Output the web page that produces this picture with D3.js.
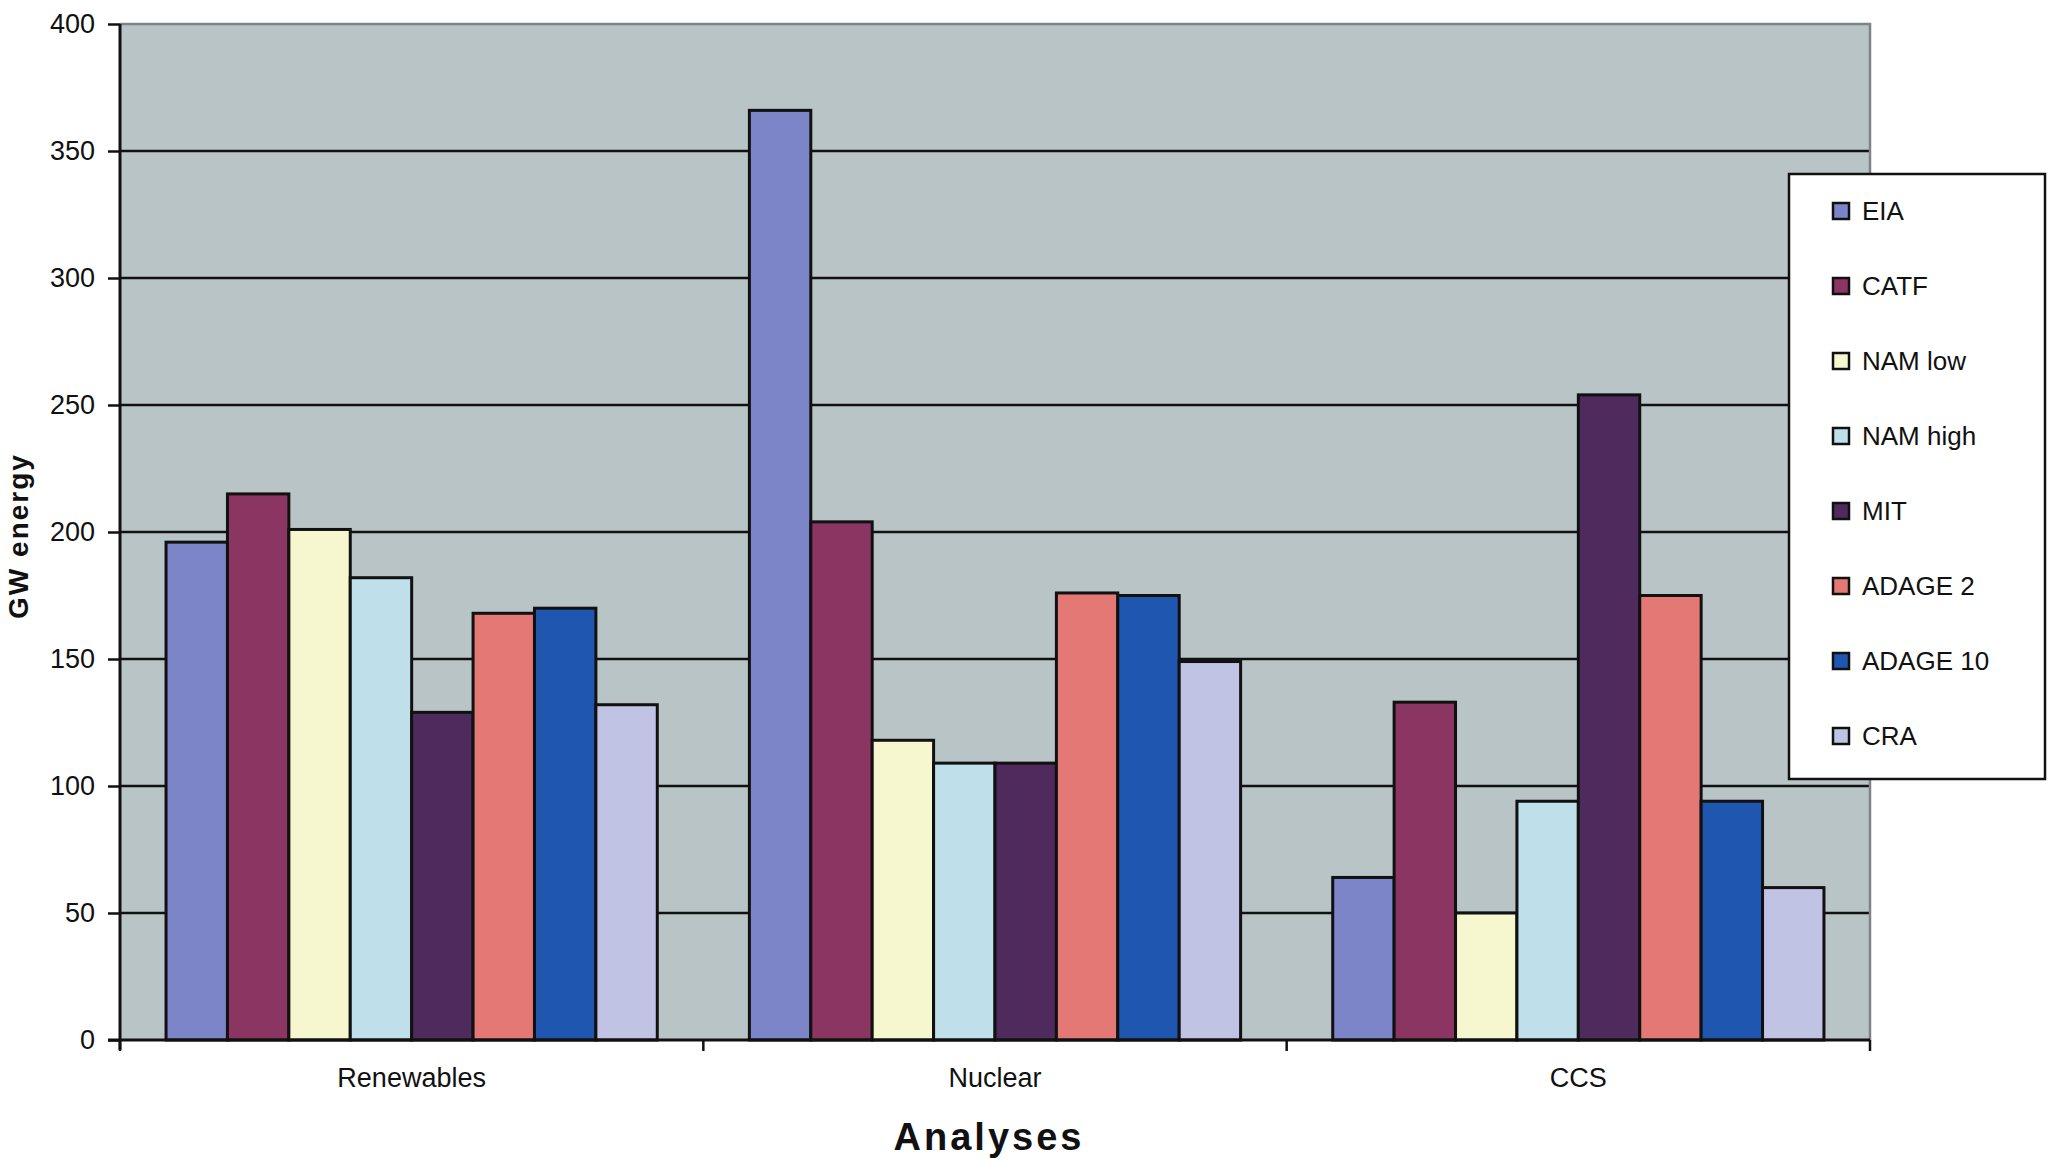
<!DOCTYPE html>
<html>
<head>
<meta charset="utf-8">
<script src="https://cdn.jsdelivr.net/npm/d3@7"></script>
<style>
  html, body { margin: 0; padding: 0; background: #ffffff; }
  svg { display: block; }
  text { font-family: "Liberation Sans", Arial, sans-serif; fill: #111; }
</style>
</head>
<body>
<svg id="chart" width="2049" height="1166"></svg>
<script>
// Categories on the x axis
const categories = ["Renewables", "Nuclear", "CCS"];

// Analyses (series) and their fills
const seriesNames = ["EIA", "CATF", "NAM low", "NAM high", "MIT", "ADAGE 2", "ADAGE 10", "CRA"];
const seriesColors = ["#7d85c9", "#8b3563", "#f6f7cf", "#bfe0ea", "#4f2a5c", "#e47874", "#1f56b0", "#c1c3e5"];

// GW of energy per analysis, one array per category (in series order)
const renewables = [196, 215, 201, 182, 129, 168, 170, 132];
const nuclear    = [366, 204, 118, 109, 109, 176, 175, 149];
const ccs        = [64, 133, 50, 94, 254, 175, 94, 60];

// Y axis tick values
const yTicks = [0, 50, 100, 150, 200, 250, 300, 350, 400];

const values = [renewables, nuclear, ccs];

const svg = d3.select("#chart");
const plot = { left: 120, right: 1870, top: 24, bottom: 1040 };

const y = d3.scaleLinear().domain([0, 400]).range([plot.bottom, plot.top]);
const x0 = d3.scaleBand().domain(categories).range([plot.left, plot.right]).paddingInner(0).paddingOuter(0);
const x1 = d3.scaleBand().domain(seriesNames).range([0, x0.bandwidth()]).paddingInner(0).paddingOuter(0.75);
const color = d3.scaleOrdinal().domain(seriesNames).range(seriesColors);

// Plot background
svg.append("rect")
  .attr("x", plot.left).attr("y", plot.top)
  .attr("width", plot.right - plot.left).attr("height", plot.bottom - plot.top)
  .attr("fill", "#b9c4c7");

// Horizontal gridlines
svg.append("g")
  .selectAll("line")
  .data(yTicks.filter(d => d > 0 && d < 400))
  .join("line")
  .attr("x1", plot.left).attr("x2", plot.right)
  .attr("y1", d => y(d)).attr("y2", d => y(d))
  .attr("stroke", "#111").attr("stroke-width", 2.5);

// Top and right plot border
svg.append("path")
  .attr("d", `M${plot.left},${plot.top}H${plot.right}V${plot.bottom}`)
  .attr("fill", "none").attr("stroke", "#7d8486").attr("stroke-width", 2.5);

// Bars
const groups = svg.append("g")
  .selectAll("g")
  .data(categories.map((c, i) => ({ cat: c, vals: values[i] })))
  .join("g")
  .attr("transform", d => `translate(${x0(d.cat)},0)`);

groups.selectAll("rect")
  .data(d => d.vals.map((v, j) => ({ name: seriesNames[j], v })))
  .join("rect")
  .attr("x", d => x1(d.name))
  .attr("width", x1.bandwidth())
  .attr("y", d => y(d.v))
  .attr("height", d => y(0) - y(d.v))
  .attr("fill", d => color(d.name))
  .attr("stroke", "#111")
  .attr("stroke-width", 3);

// Y axis
const yAxis = svg.append("g")
  .attr("transform", `translate(${plot.left},0)`)
  .call(d3.axisLeft(y).tickValues(yTicks).tickSize(12).tickPadding(13));
yAxis.select(".domain").attr("stroke", "#111").attr("stroke-width", 3)
  .attr("d", `M0,${plot.top}V${plot.bottom + 10}`);
yAxis.selectAll(".tick line").attr("stroke", "#111").attr("stroke-width", 2.5);
yAxis.selectAll(".tick text")
  .style("font-family", "'Liberation Sans', Arial, sans-serif")
  .style("font-size", "27px").attr("fill", "#111");

// X axis with ticks between categories
const xAxis = svg.append("g")
  .attr("transform", `translate(0,${plot.bottom})`);
xAxis.append("line")
  .attr("x1", plot.left - 12).attr("x2", plot.right)
  .attr("stroke", "#111").attr("stroke-width", 3);
xAxis.selectAll("line.sep")
  .data(categories.map(c => x0(c)).concat([plot.right]))
  .join("line")
  .attr("class", "sep")
  .attr("x1", d => d).attr("x2", d => d)
  .attr("y1", 0).attr("y2", 11)
  .attr("stroke", "#111").attr("stroke-width", 2.5);
xAxis.selectAll("text.cat")
  .data(categories)
  .join("text")
  .attr("class", "cat")
  .attr("x", d => x0(d) + x0.bandwidth() / 2)
  .attr("y", 47)
  .attr("text-anchor", "middle")
  .style("font-size", "27px")
  .text(d => d);

// Axis titles
svg.append("text")
  .attr("x", 989).attr("y", 1150)
  .attr("text-anchor", "middle")
  .style("font-size", "38px").style("font-weight", "bold").style("letter-spacing", "3px")
  .text("Analyses");

svg.append("text")
  .attr("transform", "translate(28,536) rotate(-90)")
  .attr("text-anchor", "middle")
  .style("font-size", "28px").style("font-weight", "bold").style("letter-spacing", "2px")
  .text("GW energy");

// Legend
const legend = svg.append("g");
legend.append("rect")
  .attr("x", 1789).attr("y", 174)
  .attr("width", 256).attr("height", 605)
  .attr("fill", "#ffffff").attr("stroke", "#111").attr("stroke-width", 2.5);

const items = legend.selectAll("g.item")
  .data(seriesNames)
  .join("g")
  .attr("class", "item")
  .attr("transform", (d, i) => `translate(1833,${211 + i * 75})`);
items.append("rect")
  .attr("x", 0).attr("y", -8)
  .attr("width", 16).attr("height", 16)
  .attr("fill", d => color(d))
  .attr("stroke", "#111").attr("stroke-width", 2.5);
items.append("text")
  .attr("x", 29).attr("y", 9)
  .style("font-size", "26px")
  .text(d => d);
</script>
</body>
</html>
